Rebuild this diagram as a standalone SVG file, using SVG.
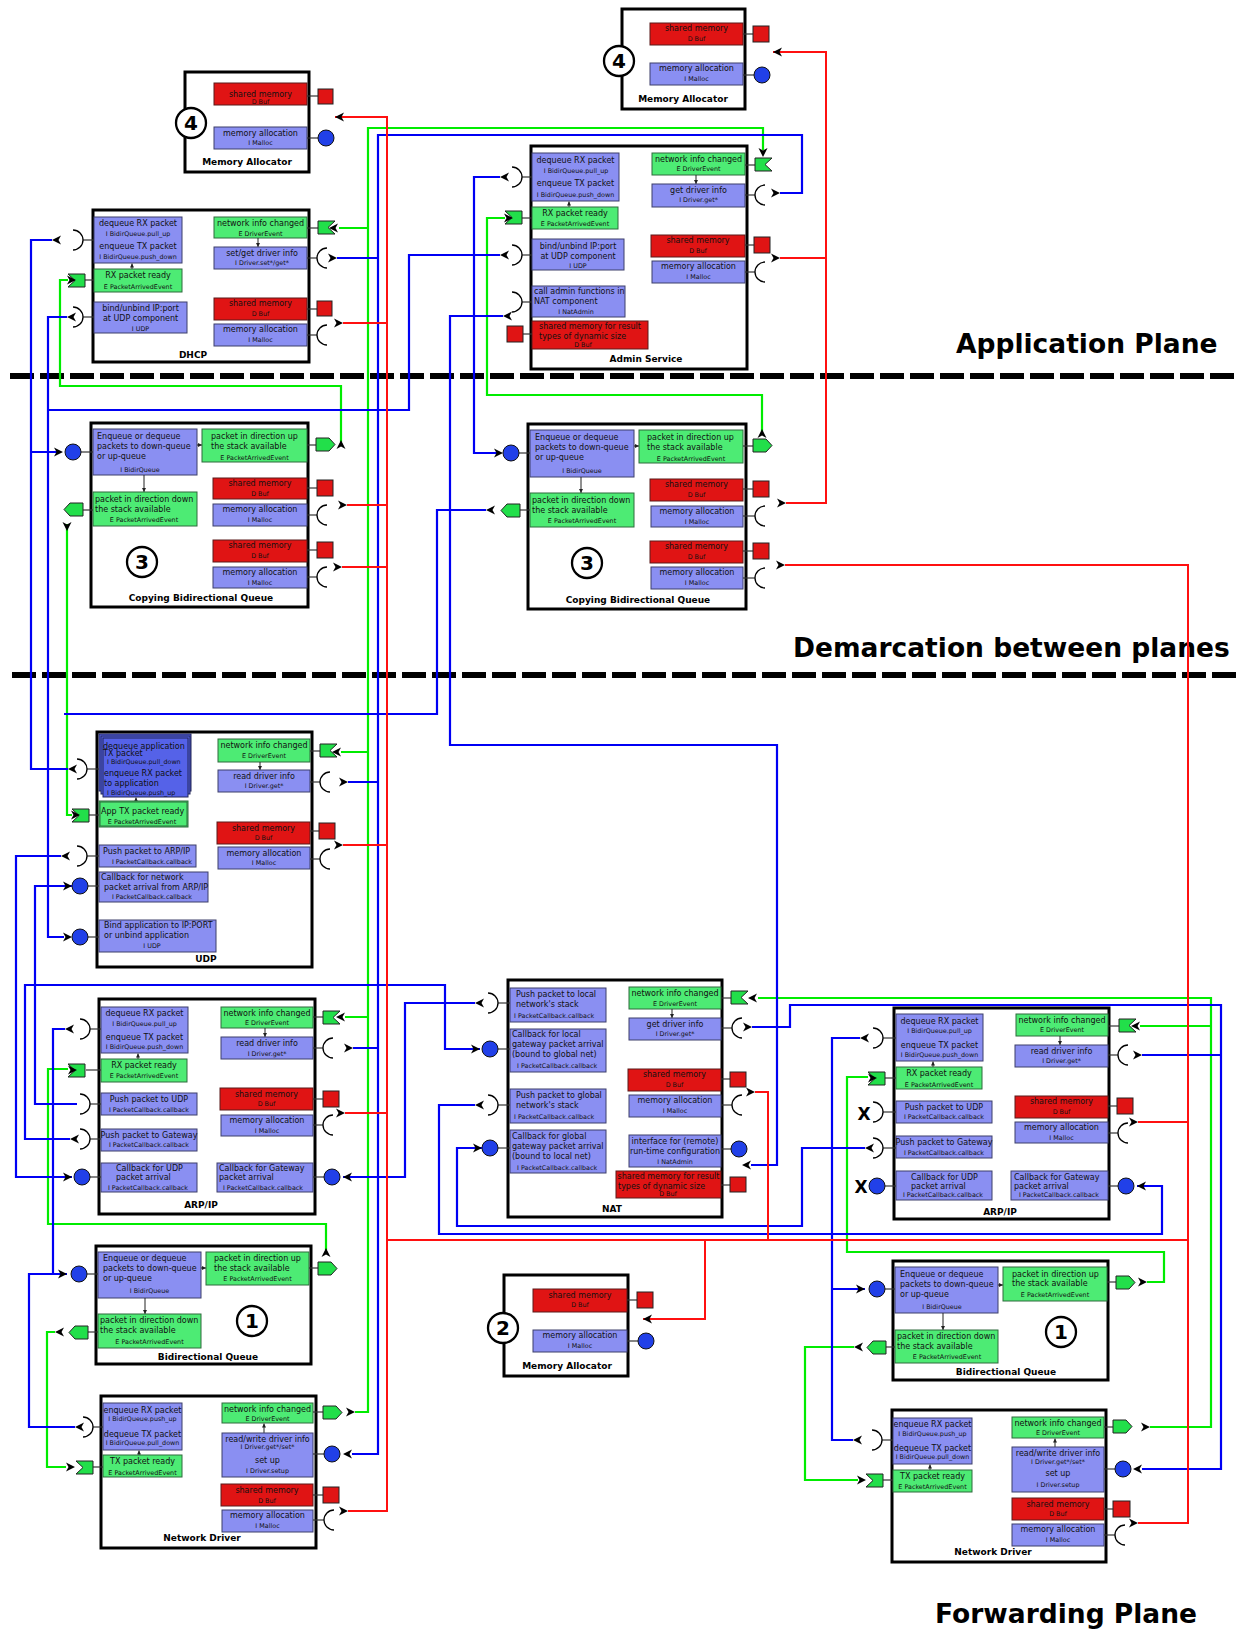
<svg xmlns="http://www.w3.org/2000/svg" width="1245" height="1629" viewBox="0 0 1245 1629">
<style>
.box{fill:#fff;stroke:#000;stroke-width:3}
.bl{fill:#8a8ff2;stroke:#3c3f6a;stroke-width:1}
.bd{fill:#5562e8;stroke:#22265a;stroke-width:1}
.gr{fill:#4deb74;stroke:#2f6a3c;stroke-width:1}
.rd{fill:#e01414;stroke:#5a1a1a;stroke-width:1}
.st{stroke:#333;stroke-width:1.2}
.pc{fill:#2140e8;stroke:#111;stroke-width:1}
.sq{fill:#e01414;stroke:#222;stroke-width:1}
.nc{fill:#fff;stroke:#000;stroke-width:2.3}
.t{font-family:"DejaVu Sans",sans-serif;font-size:8px;fill:#111}
.s{font-family:"DejaVu Sans",sans-serif;font-size:6.4px;fill:#111}
.m{text-anchor:middle}
.b{font-family:"DejaVu Sans",sans-serif;font-weight:bold;font-size:9px;text-anchor:middle}
.n{font-family:"DejaVu Sans",sans-serif;font-weight:bold;font-size:20px;text-anchor:middle}
.h{font-family:"DejaVu Sans",sans-serif;font-weight:bold;font-size:26.5px}
.x{font-family:"DejaVu Sans",sans-serif;font-weight:bold;font-size:17px;text-anchor:middle}
.ia{stroke:#222;stroke-width:1;marker-end:url(#sa)}
.wg{fill:none;stroke:#00ec00;stroke-width:2.2}
.wb{fill:none;stroke:#0000f4;stroke-width:2.2}
.wr{fill:none;stroke:#ff1010;stroke-width:2}
.sep{stroke:#000;stroke-width:6;stroke-dasharray:24 6}
</style>
<defs>
<marker id="sa" viewBox="0 0 6 6" refX="6" refY="3" markerWidth="4" markerHeight="4" orient="auto"><path d="M0,0L6,3L0,6z" fill="#222"/></marker>
<path id="ah" d="M0,0L-9,-4.5L-6.5,0L-9,4.5Z" fill="#000"/>
<path id="sr" d="M0,-10A10,10 0 0 1 0,10" fill="none" stroke="#000" stroke-width="1.3"/>
<path id="sl" d="M0,-10A10,10 0 0 0 0,10" fill="none" stroke="#000" stroke-width="1.3"/>
<path id="snR" d="M0,0H17L10,6.5L17,13H0Z" fill="#22df4a" stroke="#222" stroke-width="1"/>
<path id="snL" d="M0,0H17V13H0L7,6.5Z" fill="#22df4a" stroke="#222" stroke-width="1"/>
<path id="soR" d="M0,0H13L19,6.5L13,13H0Z" fill="#22df4a" stroke="#222" stroke-width="1"/>
<path id="soL" d="M6,0H19V13H6L0,6.5Z" fill="#22df4a" stroke="#222" stroke-width="1"/>
</defs>
<rect width="1245" height="1629" fill="#fff"/>

<!-- plane separators and titles -->
<g id="planes">
<line class="sep" x1="10" y1="376" x2="1238" y2="376"/>
<line class="sep" x1="12" y1="675" x2="1238" y2="675"/>
<text class="h" x="956" y="353">Application Plane</text>
<text class="h" x="793" y="657">Demarcation between planes</text>
<text class="h" x="935" y="1623">Forwarding Plane</text>
</g>

<!-- Memory Allocator (left, application plane) -->
<g id="ma4-left">
<rect class="box" x="185" y="72" width="124" height="100"/>
<rect class="rd" x="214" y="83" width="93" height="22"/>
<text class="t m" x="260.5" y="97">shared memory</text>
<text class="s m" x="260.5" y="104">D Buf</text>
<line class="st" x1="307" y1="96" x2="318" y2="96"/>
<rect class="sq" x="318" y="89" width="15" height="15"/>
<rect class="bl" x="214" y="127" width="93" height="22"/>
<text class="t m" x="260.5" y="136">memory allocation</text>
<text class="s m" x="260.5" y="145">I Malloc</text>
<line class="st" x1="307" y1="138" x2="318" y2="138"/>
<circle class="pc" cx="326" cy="138" r="8"/>
<circle class="nc" cx="191" cy="123" r="15"/>
<text class="n" x="191" y="130">4</text>
<text class="b" x="247" y="165">Memory Allocator</text>
</g>

<!-- Memory Allocator (right, application plane) -->
<g id="ma4-right">
<rect class="box" x="622" y="9" width="123" height="100"/>
<rect class="rd" x="650" y="23" width="93" height="22"/>
<text class="t m" x="696.5" y="31">shared memory</text>
<text class="s m" x="696.5" y="41">D Buf</text>
<line class="st" x1="743" y1="34" x2="753" y2="34"/>
<rect class="sq" x="753" y="26" width="16" height="16"/>
<rect class="bl" x="650" y="63" width="93" height="22"/>
<text class="t m" x="696.5" y="71">memory allocation</text>
<text class="s m" x="696.5" y="81">I Malloc</text>
<line class="st" x1="743" y1="75" x2="754" y2="75"/>
<circle class="pc" cx="762" cy="75" r="8"/>
<circle class="nc" cx="619" cy="61" r="15"/>
<text class="n" x="619" y="68">4</text>
<text class="b" x="683" y="102">Memory Allocator</text>
</g>

<!-- DHCP -->
<g id="dhcp">
<rect class="box" x="93" y="210" width="216" height="152"/>
<rect class="bl" x="94" y="217" width="88" height="46"/>
<text class="t m" x="138" y="226">dequeue RX packet</text>
<text class="s m" x="138" y="236">I BidirQueue.pull_up</text>
<text class="t m" x="138" y="249">enqueue TX packet</text>
<text class="s m" x="138" y="259">I BidirQueue.push_down</text>
<line class="ia" x1="132" y1="269" x2="132" y2="263.5"/>
<rect class="gr" x="94" y="269" width="88" height="23"/>
<text class="t m" x="138" y="278">RX packet ready</text>
<text class="s m" x="138" y="289">E PacketArrivedEvent</text>
<rect class="bl" x="94" y="302" width="93" height="31"/>
<text class="t m" x="140.5" y="311">bind/unbind IP:port</text>
<text class="t m" x="140.5" y="321">at UDP component</text>
<text class="s m" x="140.5" y="331">I UDP</text>
<rect class="gr" x="214" y="217" width="93" height="21"/>
<text class="t m" x="260.5" y="226">network info changed</text>
<text class="s m" x="260.5" y="236">E DriverEvent</text>
<line class="ia" x1="258" y1="238" x2="258" y2="247"/>
<rect class="bl" x="214" y="247" width="93" height="22"/>
<text class="t m" x="262" y="256">set/get driver info</text>
<text class="s m" x="262" y="265">I Driver.set*/get*</text>
<rect class="rd" x="214" y="298" width="93" height="22"/>
<text class="t m" x="260.5" y="306">shared memory</text>
<text class="s m" x="260.5" y="316">D Buf</text>
<rect class="bl" x="214" y="324" width="93" height="22"/>
<text class="t m" x="260.5" y="332">memory allocation</text>
<text class="s m" x="260.5" y="342">I Malloc</text>
<text class="b" x="193" y="358">DHCP</text>
<line class="st" x1="307" y1="228" x2="318" y2="228"/><use href="#snR" x="318" y="221"/>
<line class="st" x1="307" y1="258" x2="317" y2="258"/><use href="#sl" x="327" y="258"/>
<line class="st" x1="307" y1="309" x2="317" y2="309"/><rect class="sq" x="317" y="301" width="15" height="15"/>
<line class="st" x1="307" y1="335" x2="317" y2="335"/><use href="#sl" x="327" y="335"/>
<line class="st" x1="83" y1="240" x2="94" y2="240"/><use href="#sr" x="73" y="240"/>
<line class="st" x1="85" y1="280" x2="94" y2="280"/><use href="#snL" x="68" y="274"/>
<line class="st" x1="83" y1="317" x2="94" y2="317"/><use href="#sr" x="73" y="317"/>
</g>

<!-- Admin Service -->
<g id="admin">
<rect class="box" x="531" y="146" width="216" height="223"/>
<rect class="bl" x="532" y="153" width="87" height="48"/>
<text class="t m" x="575.5" y="163">dequeue RX packet</text>
<text class="s m" x="576" y="172.5">I BidirQueue.pull_up</text>
<text class="t m" x="575.5" y="186">enqueue TX packet</text>
<text class="s m" x="575.5" y="196.5">I BidirQueue.push_down</text>
<line class="ia" x1="569" y1="207" x2="569" y2="201.5"/>
<rect class="gr" x="532" y="207" width="86" height="22"/>
<text class="t m" x="575" y="216">RX packet ready</text>
<text class="s m" x="575" y="226">E PacketArrivedEvent</text>
<rect class="bl" x="532" y="239" width="92" height="31"/>
<text class="t m" x="578" y="249">bind/unbind IP:port</text>
<text class="t m" x="578" y="259">at UDP component</text>
<text class="s m" x="578" y="268">I UDP</text>
<rect class="bl" x="532" y="286" width="93" height="31"/>
<text class="t" x="534" y="294">call admin functions in</text>
<text class="t" x="534" y="304">NAT component</text>
<text class="s m" x="576" y="314">I NatAdmin</text>
<rect class="rd" x="532" y="321" width="116" height="28"/>
<text class="t m" x="590" y="329">shared memory for result</text>
<text class="t" x="539" y="339">types of dynamic size</text>
<text class="s m" x="583" y="346.5">D Buf</text>
<line class="st" x1="523" y1="334" x2="532" y2="334"/><rect class="sq" x="507" y="326" width="16" height="16"/>
<rect class="gr" x="652" y="153" width="93" height="22"/>
<text class="t m" x="698.5" y="162">network info changed</text>
<text class="s m" x="698.5" y="171">E DriverEvent</text>
<line class="ia" x1="696" y1="175" x2="696" y2="184"/>
<rect class="bl" x="652" y="184" width="93" height="23"/>
<text class="t m" x="698.5" y="193">get driver info</text>
<text class="s m" x="698.5" y="202">I Driver.get*</text>
<rect class="rd" x="651" y="235" width="94" height="22"/>
<text class="t m" x="698" y="243">shared memory</text>
<text class="s m" x="698" y="253">D Buf</text>
<rect class="bl" x="652" y="261" width="93" height="22"/>
<text class="t m" x="698.5" y="269">memory allocation</text>
<text class="s m" x="698.5" y="279">I Malloc</text>
<text class="b" x="646" y="362">Admin Service</text>
<line class="st" x1="745" y1="165" x2="755" y2="165"/><use href="#snR" x="755" y="158"/>
<line class="st" x1="745" y1="195" x2="755" y2="195"/><use href="#sl" x="765" y="195"/>
<line class="st" x1="745" y1="245" x2="754" y2="245"/><rect class="sq" x="754" y="237" width="16" height="16"/>
<line class="st" x1="745" y1="272" x2="755" y2="272"/><use href="#sl" x="765" y="272"/>
<line class="st" x1="522" y1="177" x2="532" y2="177"/><use href="#sr" x="512" y="177"/>
<line class="st" x1="522" y1="218" x2="532" y2="218"/><use href="#snL" x="505" y="211"/>
<line class="st" x1="522" y1="255" x2="532" y2="255"/><use href="#sr" x="512" y="255"/>
<line class="st" x1="522" y1="302" x2="532" y2="302"/><use href="#sr" x="512" y="302"/>
</g>

<!-- Copying Bidirectional Queue (left) -->
<g id="cbq-left">
<rect class="box" x="91" y="423" width="217" height="184"/>
<rect class="bl" x="93" y="429" width="104" height="46"/>
<text class="t" x="97" y="438.5">Enqueue or dequeue</text>
<text class="t" x="97" y="448.5">packets to down-queue</text>
<text class="t" x="97" y="458.5">or up-queue</text>
<text class="s m" x="140" y="471.5">I BidirQueue</text>
<line class="ia" x1="197" y1="445" x2="202" y2="445"/>
<rect class="gr" x="202" y="429" width="105" height="33"/>
<text class="t" x="211" y="439">packet in direction up</text>
<text class="t" x="211" y="449">the stack available</text>
<text class="s m" x="254.5" y="459.5">E PacketArrivedEvent</text>
<line class="ia" x1="144" y1="475" x2="144" y2="492"/>
<rect class="gr" x="93" y="492" width="104" height="34"/>
<text class="t" x="95" y="502">packet in direction down</text>
<text class="t" x="95" y="512">the stack available</text>
<text class="s m" x="144" y="522">E PacketArrivedEvent</text>
<rect class="rd" x="213" y="478" width="94" height="21"/>
<text class="t m" x="260" y="486">shared memory</text>
<text class="s m" x="260" y="496">D Buf</text>
<rect class="bl" x="213" y="504" width="94" height="22"/>
<text class="t m" x="260" y="512">memory allocation</text>
<text class="s m" x="260" y="522">I Malloc</text>
<rect class="rd" x="213" y="540" width="94" height="22"/>
<text class="t m" x="260" y="548">shared memory</text>
<text class="s m" x="260" y="558">D Buf</text>
<rect class="bl" x="213" y="567" width="94" height="21"/>
<text class="t m" x="260" y="575">memory allocation</text>
<text class="s m" x="260" y="585">I Malloc</text>
<circle class="nc" cx="142" cy="562" r="15"/>
<text class="n" x="142" y="569">3</text>
<text class="b" x="201" y="601">Copying Bidirectional Queue</text>
<line class="st" x1="307" y1="445" x2="316" y2="445"/><use href="#soR" x="316" y="438"/>
<line class="st" x1="83" y1="510" x2="93" y2="510"/><use href="#soL" x="64" y="503"/>
<line class="st" x1="81" y1="452" x2="93" y2="452"/><circle class="pc" cx="73" cy="452" r="8"/>
<line class="st" x1="307" y1="488" x2="317" y2="488"/><rect class="sq" x="317" y="480" width="16" height="16"/>
<line class="st" x1="307" y1="515" x2="317" y2="515"/><use href="#sl" x="327" y="515"/>
<line class="st" x1="307" y1="550" x2="317" y2="550"/><rect class="sq" x="317" y="542" width="16" height="16"/>
<line class="st" x1="307" y1="577" x2="317" y2="577"/><use href="#sl" x="327" y="577"/>
</g>

<!-- Copying Bidirectional Queue (right) -->
<g id="cbq-right">
<rect class="box" x="528" y="424" width="218" height="185"/>
<rect class="bl" x="530" y="430" width="104" height="47"/>
<text class="t" x="535" y="440">Enqueue or dequeue</text>
<text class="t" x="535" y="450">packets to down-queue</text>
<text class="t" x="535" y="460">or up-queue</text>
<text class="s m" x="582" y="472.5">I BidirQueue</text>
<line class="ia" x1="634" y1="446" x2="639" y2="446"/>
<rect class="gr" x="639" y="430" width="104" height="33"/>
<text class="t" x="647" y="440">packet in direction up</text>
<text class="t" x="647" y="450">the stack available</text>
<text class="s m" x="691" y="460.5">E PacketArrivedEvent</text>
<line class="ia" x1="581" y1="477" x2="581" y2="493"/>
<rect class="gr" x="530" y="493" width="104" height="34"/>
<text class="t" x="532" y="503">packet in direction down</text>
<text class="t" x="532" y="513">the stack available</text>
<text class="s m" x="582" y="523">E PacketArrivedEvent</text>
<rect class="rd" x="650" y="479" width="93" height="22"/>
<text class="t m" x="696.5" y="487">shared memory</text>
<text class="s m" x="696.5" y="497">D Buf</text>
<rect class="bl" x="651" y="506" width="92" height="21"/>
<text class="t m" x="697" y="514">memory allocation</text>
<text class="s m" x="697" y="524">I Malloc</text>
<rect class="rd" x="650" y="541" width="93" height="22"/>
<text class="t m" x="696.5" y="549">shared memory</text>
<text class="s m" x="696.5" y="559">D Buf</text>
<rect class="bl" x="651" y="567" width="92" height="22"/>
<text class="t m" x="697" y="575">memory allocation</text>
<text class="s m" x="697" y="585">I Malloc</text>
<circle class="nc" cx="587" cy="563" r="15"/>
<text class="n" x="587" y="570">3</text>
<text class="b" x="638" y="603">Copying Bidirectional Queue</text>
<line class="st" x1="743" y1="446" x2="753" y2="446"/><use href="#soR" x="753" y="439"/>
<line class="st" x1="520" y1="510" x2="530" y2="510"/><use href="#soL" x="501" y="504"/>
<line class="st" x1="519" y1="453" x2="530" y2="453"/><circle class="pc" cx="511" cy="453" r="8"/>
<line class="st" x1="743" y1="489" x2="753" y2="489"/><rect class="sq" x="753" y="481" width="16" height="16"/>
<line class="st" x1="743" y1="516" x2="755" y2="516"/><use href="#sl" x="765" y="516"/>
<line class="st" x1="743" y1="551" x2="753" y2="551"/><rect class="sq" x="753" y="543" width="16" height="16"/>
<line class="st" x1="743" y1="578" x2="755" y2="578"/><use href="#sl" x="765" y="578"/>
</g>

<!-- UDP -->
<g id="udp">
<rect class="box" x="97" y="732" width="215" height="235"/>
<rect class="bd" x="99" y="734" width="92" height="57"/>
<rect class="bd" x="101" y="736" width="89" height="58"/>
<rect class="bd" x="103" y="738" width="85" height="59"/>
<text class="t" x="103" y="748.5">dequeue application</text>
<text class="t" x="103" y="756">TX packet</text>
<text class="s" x="107" y="764">I BidirQueue.pull_down</text>
<text class="t" x="104" y="776">enqueue RX packet</text>
<text class="t" x="104" y="785.5">to application</text>
<text class="s" x="107" y="794.5">I BidirQueue.push_up</text>
<line class="ia" x1="136" y1="801" x2="136" y2="797.5"/>
<rect class="gr" x="99" y="801" width="89" height="26"/>
<rect class="gr" x="100" y="802" width="87" height="24"/>
<text class="t" x="101" y="813.5">App TX packet ready</text>
<text class="s m" x="142" y="824">E PacketArrivedEvent</text>
<rect class="bl" x="99" y="845" width="97" height="22"/>
<text class="t" x="103" y="853.5">Push packet to ARP/IP</text>
<text class="s m" x="152" y="864">I PacketCallback.callback</text>
<rect class="bl" x="99" y="872" width="109" height="30"/>
<text class="t" x="101" y="880">Callback for network</text>
<text class="t" x="104" y="889.5">packet arrival from ARP/IP</text>
<text class="s m" x="152" y="899">I PacketCallback.callback</text>
<rect class="bl" x="99" y="920" width="117" height="32"/>
<text class="t" x="104" y="927.5">Bind application to IP:PORT</text>
<text class="t" x="104" y="937.5">or unbind application</text>
<text class="s m" x="152" y="947.5">I UDP</text>
<rect class="gr" x="218" y="739" width="92" height="23"/>
<text class="t m" x="264" y="748">network info changed</text>
<text class="s m" x="264" y="758">E DriverEvent</text>
<line class="ia" x1="260" y1="762" x2="260" y2="770"/>
<rect class="bl" x="218" y="770" width="92" height="22"/>
<text class="t m" x="264" y="779">read driver info</text>
<text class="s m" x="264" y="788">I Driver.get*</text>
<rect class="rd" x="217" y="822" width="93" height="22"/>
<text class="t m" x="263.5" y="830.5">shared memory</text>
<text class="s m" x="263.5" y="840">D Buf</text>
<rect class="bl" x="218" y="847" width="92" height="22"/>
<text class="t m" x="264" y="855.5">memory allocation</text>
<text class="s m" x="264" y="865">I Malloc</text>
<text class="b" x="206" y="962">UDP</text>
<line class="st" x1="310" y1="751" x2="320" y2="751"/><use href="#snR" x="320" y="744"/>
<line class="st" x1="310" y1="782" x2="320" y2="782"/><use href="#sl" x="330" y="782"/>
<line class="st" x1="310" y1="831" x2="319" y2="831"/><rect class="sq" x="319" y="823" width="16" height="16"/>
<line class="st" x1="310" y1="859" x2="320" y2="859"/><use href="#sl" x="330" y="859"/>
<line class="st" x1="87" y1="769" x2="99" y2="769"/><use href="#sr" x="77" y="769"/>
<line class="st" x1="89" y1="815" x2="99" y2="815"/><use href="#snL" x="72" y="809"/>
<line class="st" x1="87" y1="856" x2="99" y2="856"/><use href="#sr" x="77" y="856"/>
<line class="st" x1="88" y1="886" x2="99" y2="886"/><circle class="pc" cx="80" cy="886" r="8"/>
<line class="st" x1="88" y1="937" x2="99" y2="937"/><circle class="pc" cx="80" cy="937" r="8"/>
</g>

<!-- ARP/IP (left) -->
<g id="arp-left">
<rect class="box" x="99" y="999" width="216" height="215"/>
<rect class="bl" x="101" y="1007" width="87" height="46"/>
<text class="t m" x="144.5" y="1016">dequeue RX packet</text>
<text class="s m" x="144.5" y="1026">I BidirQueue.pull_up</text>
<text class="t m" x="144.5" y="1040">enqueue TX packet</text>
<text class="s m" x="144.5" y="1049">I BidirQueue.push_down</text>
<line class="ia" x1="138" y1="1059" x2="138" y2="1053.5"/>
<rect class="gr" x="101" y="1059" width="86" height="23"/>
<text class="t m" x="144" y="1068">RX packet ready</text>
<text class="s m" x="144" y="1078">E PacketArrivedEvent</text>
<rect class="bl" x="101" y="1093" width="96" height="22"/>
<text class="t m" x="149" y="1102">Push packet to UDP</text>
<text class="s m" x="149" y="1112">I PacketCallback.callback</text>
<rect class="bl" x="101" y="1129" width="96" height="22"/>
<text class="t m" x="149" y="1137.5">Push packet to Gateway</text>
<text class="s m" x="149" y="1147">I PacketCallback.callback</text>
<rect class="bl" x="101" y="1163" width="96" height="29"/>
<text class="t" x="116" y="1171">Callback for UDP</text>
<text class="t" x="116" y="1180">packet arrival</text>
<text class="s m" x="148" y="1190">I PacketCallback.callback</text>
<rect class="gr" x="221" y="1007" width="92" height="21"/>
<text class="t m" x="267" y="1015.5">network info changed</text>
<text class="s m" x="267" y="1025">E DriverEvent</text>
<line class="ia" x1="265" y1="1028" x2="265" y2="1037"/>
<rect class="bl" x="221" y="1037" width="92" height="22"/>
<text class="t m" x="267" y="1046">read driver info</text>
<text class="s m" x="267" y="1055.5">I Driver.get*</text>
<rect class="rd" x="220" y="1088" width="93" height="22"/>
<text class="t m" x="266.5" y="1096.5">shared memory</text>
<text class="s m" x="266.5" y="1106">D Buf</text>
<rect class="bl" x="221" y="1115" width="92" height="21"/>
<text class="t m" x="267" y="1123">memory allocation</text>
<text class="s m" x="267" y="1132.5">I Malloc</text>
<rect class="bl" x="217" y="1163" width="96" height="29"/>
<text class="t" x="219" y="1171">Callback for Gateway</text>
<text class="t" x="219" y="1180">packet arrival</text>
<text class="s m" x="263" y="1190">I PacketCallback.callback</text>
<text class="b" x="201" y="1208">ARP/IP</text>
<line class="st" x1="313" y1="1017" x2="323" y2="1017"/><use href="#snR" x="323" y="1011"/>
<line class="st" x1="313" y1="1048" x2="323" y2="1048"/><use href="#sl" x="333" y="1048"/>
<line class="st" x1="313" y1="1099" x2="323" y2="1099"/><rect class="sq" x="323" y="1091" width="16" height="16"/>
<line class="st" x1="313" y1="1125" x2="323" y2="1125"/><use href="#sl" x="333" y="1125"/>
<line class="st" x1="313" y1="1177" x2="324" y2="1177"/><circle class="pc" cx="332" cy="1177" r="8"/>
<line class="st" x1="90" y1="1029" x2="101" y2="1029"/><use href="#sr" x="80" y="1029"/>
<line class="st" x1="86" y1="1070" x2="101" y2="1070"/><use href="#snL" x="68" y="1064"/>
<line class="st" x1="90" y1="1104" x2="101" y2="1104"/><use href="#sr" x="80" y="1104"/>
<line class="st" x1="90" y1="1139" x2="101" y2="1139"/><use href="#sr" x="80" y="1139"/>
<line class="st" x1="90" y1="1177" x2="101" y2="1177"/><circle class="pc" cx="82" cy="1177" r="8"/>
</g>

<!-- NAT -->
<g id="nat">
<rect class="box" x="508" y="980" width="214" height="237"/>
<rect class="bl" x="510" y="988" width="96" height="34"/>
<text class="t" x="516" y="997">Push packet to local</text>
<text class="t" x="516" y="1006.5">network's stack</text>
<text class="s" x="514" y="1018">I PacketCallback.callback</text>
<rect class="bl" x="510" y="1029" width="96" height="43"/>
<text class="t" x="512" y="1037">Callback for local</text>
<text class="t" x="512" y="1047">gateway packet arrival</text>
<text class="t" x="512" y="1057">(bound to global net)</text>
<text class="s" x="517" y="1068">I PacketCallback.callback</text>
<rect class="bl" x="510" y="1089" width="96" height="34"/>
<text class="t" x="516" y="1098">Push packet to global</text>
<text class="t" x="516" y="1107.5">network's stack</text>
<text class="s" x="514" y="1119">I PacketCallback.callback</text>
<rect class="bl" x="510" y="1130" width="96" height="43"/>
<text class="t" x="512" y="1139">Callback for global</text>
<text class="t" x="512" y="1149">gateway packet arrival</text>
<text class="t" x="512" y="1159">(bound to local net)</text>
<text class="s" x="517" y="1169.5">I PacketCallback.callback</text>
<rect class="gr" x="629" y="987" width="92" height="22"/>
<text class="t m" x="675" y="996">network info changed</text>
<text class="s m" x="675" y="1005.5">E DriverEvent</text>
<line class="ia" x1="672" y1="1009" x2="672" y2="1018"/>
<rect class="bl" x="629" y="1018" width="92" height="22"/>
<text class="t m" x="675" y="1026.5">get driver info</text>
<text class="s m" x="675" y="1036">I Driver.get*</text>
<rect class="rd" x="628" y="1069" width="93" height="22"/>
<text class="t m" x="674.5" y="1077">shared memory</text>
<text class="s m" x="674.5" y="1086.5">D Buf</text>
<rect class="bl" x="629" y="1095" width="92" height="22"/>
<text class="t m" x="675" y="1103">memory allocation</text>
<text class="s m" x="675" y="1112.5">I Malloc</text>
<rect class="bl" x="629" y="1135" width="92" height="32"/>
<text class="t m" x="675" y="1144">interface for (remote)</text>
<text class="t m" x="675" y="1154">run-time configuration</text>
<text class="s m" x="675" y="1164">I NatAdmin</text>
<rect class="rd" x="616" y="1171" width="105" height="27"/>
<text class="t m" x="668.5" y="1178.5">shared memory for result</text>
<text class="t" x="618" y="1188.5">types of dynamic size</text>
<text class="s m" x="668" y="1196">D Buf</text>
<text class="b" x="612" y="1212">NAT</text>
<line class="st" x1="721" y1="998" x2="731" y2="998"/><use href="#snR" x="731" y="991"/>
<line class="st" x1="721" y1="1028" x2="732" y2="1028"/><use href="#sl" x="742" y="1028"/>
<line class="st" x1="721" y1="1079" x2="730" y2="1079"/><rect class="sq" x="730" y="1072" width="16" height="15"/>
<line class="st" x1="721" y1="1105" x2="732" y2="1105"/><use href="#sl" x="742" y="1105"/>
<line class="st" x1="721" y1="1149" x2="731" y2="1149"/><circle class="pc" cx="739" cy="1149" r="8"/>
<line class="st" x1="721" y1="1185" x2="730" y2="1185"/><rect class="sq" x="730" y="1177" width="16" height="15"/>
<line class="st" x1="498" y1="1003" x2="510" y2="1003"/><use href="#sr" x="488" y="1003"/>
<line class="st" x1="498" y1="1049" x2="510" y2="1049"/><circle class="pc" cx="490" cy="1049" r="8"/>
<line class="st" x1="498" y1="1105" x2="510" y2="1105"/><use href="#sr" x="488" y="1105"/>
<line class="st" x1="498" y1="1148" x2="510" y2="1148"/><circle class="pc" cx="490" cy="1148" r="8"/>
</g>

<!-- ARP/IP (right) -->
<g id="arp-right">
<rect class="box" x="894" y="1008" width="215" height="211"/>
<rect class="bl" x="896" y="1014" width="87" height="47"/>
<text class="t m" x="939.5" y="1024">dequeue RX packet</text>
<text class="s m" x="939.5" y="1033">I BidirQueue.pull_up</text>
<text class="t m" x="939.5" y="1048">enqueue TX packet</text>
<text class="s m" x="939.5" y="1056.5">I BidirQueue.push_down</text>
<line class="ia" x1="933" y1="1067" x2="933" y2="1061.5"/>
<rect class="gr" x="896" y="1067" width="86" height="22"/>
<text class="t m" x="939" y="1076">RX packet ready</text>
<text class="s m" x="939" y="1086.5">E PacketArrivedEvent</text>
<rect class="bl" x="896" y="1101" width="96" height="22"/>
<text class="t m" x="944" y="1109.5">Push packet to UDP</text>
<text class="s m" x="944" y="1119">I PacketCallback.callback</text>
<rect class="bl" x="896" y="1136" width="96" height="22"/>
<text class="t m" x="944" y="1144.5">Push packet to Gateway</text>
<text class="s m" x="944" y="1154.5">I PacketCallback.callback</text>
<rect class="bl" x="896" y="1171" width="96" height="29"/>
<text class="t" x="911" y="1180">Callback for UDP</text>
<text class="t" x="911" y="1189">packet arrival</text>
<text class="s m" x="943" y="1197">I PacketCallback.callback</text>
<rect class="gr" x="1016" y="1014" width="92" height="22"/>
<text class="t m" x="1062" y="1022.5">network info changed</text>
<text class="s m" x="1062" y="1032">E DriverEvent</text>
<line class="ia" x1="1060" y1="1036" x2="1060" y2="1045"/>
<rect class="bl" x="1015" y="1045" width="93" height="22"/>
<text class="t m" x="1061.5" y="1053.5">read driver info</text>
<text class="s m" x="1061.5" y="1063">I Driver.get*</text>
<rect class="rd" x="1015" y="1096" width="93" height="22"/>
<text class="t m" x="1061.5" y="1104">shared memory</text>
<text class="s m" x="1061.5" y="1114">D Buf</text>
<rect class="bl" x="1015" y="1122" width="93" height="21"/>
<text class="t m" x="1061.5" y="1130">memory allocation</text>
<text class="s m" x="1061.5" y="1139.5">I Malloc</text>
<rect class="bl" x="1011" y="1171" width="97" height="29"/>
<text class="t" x="1014" y="1180">Callback for Gateway</text>
<text class="t" x="1014" y="1189">packet arrival</text>
<text class="s m" x="1059" y="1197">I PacketCallback.callback</text>
<text class="b" x="1000" y="1215">ARP/IP</text>
<line class="st" x1="1108" y1="1026" x2="1119" y2="1026"/><use href="#snR" x="1119" y="1019"/>
<line class="st" x1="1108" y1="1055" x2="1118" y2="1055"/><use href="#sl" x="1128" y="1055"/>
<line class="st" x1="1108" y1="1106" x2="1117" y2="1106"/><rect class="sq" x="1117" y="1098" width="16" height="16"/>
<line class="st" x1="1108" y1="1133" x2="1118" y2="1133"/><use href="#sl" x="1128" y="1133"/>
<line class="st" x1="1108" y1="1186" x2="1118" y2="1186"/><circle class="pc" cx="1126" cy="1186" r="8"/>
<line class="st" x1="883" y1="1038" x2="896" y2="1038"/><use href="#sr" x="873" y="1038"/>
<line class="st" x1="885" y1="1078" x2="896" y2="1078"/><use href="#snL" x="868" y="1072"/>
<line class="st" x1="883" y1="1112" x2="896" y2="1112"/><use href="#sr" x="873" y="1112"/>
<text class="x" x="864" y="1120">X</text>
<line class="st" x1="883" y1="1148" x2="896" y2="1148"/><use href="#sr" x="873" y="1148"/>
<line class="st" x1="885" y1="1186" x2="896" y2="1186"/><circle class="pc" cx="877" cy="1186" r="8"/>
<text class="x" x="861" y="1193">X</text>
</g>

<!-- Bidirectional Queue (left) -->
<g id="bq-left">
<rect class="box" x="96" y="1246" width="215" height="118"/>
<rect class="bl" x="98" y="1252" width="103" height="46"/>
<text class="t" x="103" y="1261">Enqueue or dequeue</text>
<text class="t" x="103" y="1271">packets to down-queue</text>
<text class="t" x="103" y="1281">or up-queue</text>
<text class="s m" x="149.5" y="1293">I BidirQueue</text>
<line class="ia" x1="201" y1="1268" x2="206" y2="1268"/>
<rect class="gr" x="206" y="1252" width="103" height="33"/>
<text class="t" x="214" y="1261">packet in direction up</text>
<text class="t" x="214" y="1270.5">the stack available</text>
<text class="s m" x="257.5" y="1281">E PacketArrivedEvent</text>
<line class="ia" x1="145" y1="1298" x2="145" y2="1314"/>
<rect class="gr" x="98" y="1314" width="103" height="34"/>
<text class="t" x="100" y="1323">packet in direction down</text>
<text class="t" x="100" y="1332.5">the stack available</text>
<text class="s m" x="149.5" y="1344">E PacketArrivedEvent</text>
<circle class="nc" cx="252" cy="1321" r="15"/>
<text class="n" x="252" y="1328">1</text>
<text class="b" x="208" y="1360">Bidirectional Queue</text>
<line class="st" x1="309" y1="1268" x2="318" y2="1268"/><use href="#soR" x="318" y="1262"/>
<line class="st" x1="88" y1="1332" x2="98" y2="1332"/><use href="#soL" x="69" y="1326"/>
<line class="st" x1="87" y1="1274" x2="98" y2="1274"/><circle class="pc" cx="79" cy="1274" r="8"/>
</g>

<!-- Network Driver (left) -->
<g id="nd-left">
<rect class="box" x="101" y="1396" width="215" height="152"/>
<rect class="bl" x="103" y="1403" width="79" height="47"/>
<text class="t m" x="142.5" y="1413">enqueue RX packet</text>
<text class="s m" x="142.5" y="1421">I BidirQueue.push_up</text>
<text class="t m" x="142.5" y="1437">dequeue TX packet</text>
<text class="s m" x="142.5" y="1445">I BidirQueue.pull_down</text>
<line class="ia" x1="139" y1="1455" x2="139" y2="1450.5"/>
<rect class="gr" x="103" y="1455" width="79" height="22"/>
<text class="t m" x="142.5" y="1464">TX packet ready</text>
<text class="s m" x="142.5" y="1474.5">E PacketArrivedEvent</text>
<rect class="gr" x="222" y="1403" width="91" height="20"/>
<text class="t m" x="267.5" y="1411.5">network info changed</text>
<text class="s m" x="267.5" y="1421">E DriverEvent</text>
<line class="ia" x1="264" y1="1433" x2="264" y2="1423.5"/>
<rect class="bl" x="222" y="1433" width="91" height="44"/>
<text class="t m" x="267.5" y="1441.5">read/write driver info</text>
<text class="s m" x="267.5" y="1449">I Driver.get*/set*</text>
<text class="t m" x="267.5" y="1462.5">set up</text>
<text class="s m" x="267.5" y="1473">I Driver.setup</text>
<rect class="rd" x="221" y="1484" width="92" height="22"/>
<text class="t m" x="267" y="1493">shared memory</text>
<text class="s m" x="267" y="1502.5">D Buf</text>
<rect class="bl" x="222" y="1510" width="91" height="22"/>
<text class="t m" x="267.5" y="1518">memory allocation</text>
<text class="s m" x="267.5" y="1528">I Malloc</text>
<text class="b" x="202" y="1541">Network Driver</text>
<line class="st" x1="313" y1="1412" x2="323" y2="1412"/><use href="#soR" x="323" y="1406"/>
<line class="st" x1="313" y1="1454" x2="324" y2="1454"/><circle class="pc" cx="332" cy="1454" r="8"/>
<line class="st" x1="313" y1="1495" x2="323" y2="1495"/><rect class="sq" x="323" y="1487" width="16" height="16"/>
<line class="st" x1="313" y1="1520" x2="324" y2="1520"/><use href="#sl" x="334" y="1520"/>
<line class="st" x1="93" y1="1427" x2="103" y2="1427"/><use href="#sr" x="83" y="1427"/>
<line class="st" x1="93" y1="1467" x2="103" y2="1467"/><use href="#snL" x="76" y="1461"/>
</g>

<!-- Memory Allocator (forwarding plane) -->
<g id="ma2">
<rect class="box" x="504" y="1275" width="124" height="101"/>
<rect class="rd" x="533" y="1289" width="94" height="23"/>
<text class="t m" x="580" y="1298">shared memory</text>
<text class="s m" x="580" y="1307">D Buf</text>
<line class="st" x1="627" y1="1300" x2="637" y2="1300"/><rect class="sq" x="637" y="1292" width="16" height="16"/>
<rect class="bl" x="533" y="1330" width="94" height="22"/>
<text class="t m" x="580" y="1338">memory allocation</text>
<text class="s m" x="580" y="1347.5">I Malloc</text>
<line class="st" x1="627" y1="1341" x2="638" y2="1341"/><circle class="pc" cx="646" cy="1341" r="8"/>
<circle class="nc" cx="503" cy="1328" r="15"/>
<text class="n" x="503" y="1335">2</text>
<text class="b" x="567" y="1369">Memory Allocator</text>
</g>

<!-- Bidirectional Queue (right) -->
<g id="bq-right">
<rect class="box" x="893" y="1261" width="215" height="119"/>
<rect class="bl" x="895" y="1267" width="103" height="46"/>
<text class="t" x="900" y="1276.5">Enqueue or dequeue</text>
<text class="t" x="900" y="1286.5">packets to down-queue</text>
<text class="t" x="900" y="1296.5">or up-queue</text>
<text class="s m" x="942" y="1309">I BidirQueue</text>
<line class="ia" x1="998" y1="1285" x2="1003" y2="1285"/>
<rect class="gr" x="1003" y="1267" width="104" height="34"/>
<text class="t" x="1012" y="1276.5">packet in direction up</text>
<text class="t" x="1012" y="1286">the stack available</text>
<text class="s m" x="1055" y="1296.5">E PacketArrivedEvent</text>
<line class="ia" x1="943" y1="1313" x2="943" y2="1330"/>
<rect class="gr" x="895" y="1330" width="103" height="33"/>
<text class="t" x="897" y="1339">packet in direction down</text>
<text class="t" x="897" y="1349">the stack available</text>
<text class="s m" x="947" y="1359">E PacketArrivedEvent</text>
<circle class="nc" cx="1061" cy="1332" r="15"/>
<text class="n" x="1061" y="1339">1</text>
<text class="b" x="1006" y="1375">Bidirectional Queue</text>
<line class="st" x1="1107" y1="1282" x2="1116" y2="1282"/><use href="#soR" x="1116" y="1276"/>
<line class="st" x1="886" y1="1347" x2="895" y2="1347"/><use href="#soL" x="867" y="1341"/>
<line class="st" x1="885" y1="1289" x2="895" y2="1289"/><circle class="pc" cx="877" cy="1289" r="8"/>
</g>

<!-- Network Driver (right) -->
<g id="nd-right">
<rect class="box" x="892" y="1410" width="214" height="152"/>
<rect class="bl" x="893" y="1418" width="79" height="46"/>
<text class="t m" x="932.5" y="1427">enqueue RX packet</text>
<text class="s m" x="932.5" y="1435.5">I BidirQueue.push_up</text>
<text class="t m" x="932.5" y="1451">dequeue TX packet</text>
<text class="s m" x="932.5" y="1459">I BidirQueue.pull_down</text>
<line class="ia" x1="930" y1="1470" x2="930" y2="1464.5"/>
<rect class="gr" x="893" y="1470" width="79" height="22"/>
<text class="t m" x="932.5" y="1479">TX packet ready</text>
<text class="s m" x="932.5" y="1489">E PacketArrivedEvent</text>
<rect class="gr" x="1012" y="1417" width="92" height="21"/>
<text class="t m" x="1058" y="1425.5">network info changed</text>
<text class="s m" x="1058" y="1435">E DriverEvent</text>
<line class="ia" x1="1055" y1="1447" x2="1055" y2="1438.5"/>
<rect class="bl" x="1012" y="1447" width="92" height="45"/>
<text class="t m" x="1058" y="1456">read/write driver info</text>
<text class="s m" x="1058" y="1464">I Driver.get*/set*</text>
<text class="t m" x="1058" y="1476">set up</text>
<text class="s m" x="1058" y="1487">I Driver.setup</text>
<rect class="rd" x="1012" y="1498" width="92" height="22"/>
<text class="t m" x="1058" y="1506.5">shared memory</text>
<text class="s m" x="1058" y="1516">D Buf</text>
<rect class="bl" x="1012" y="1524" width="92" height="22"/>
<text class="t m" x="1058" y="1532">memory allocation</text>
<text class="s m" x="1058" y="1541.5">I Malloc</text>
<text class="b" x="993" y="1555">Network Driver</text>
<line class="st" x1="1104" y1="1427" x2="1113" y2="1427"/><use href="#soR" x="1113" y="1420"/>
<line class="st" x1="1104" y1="1469" x2="1115" y2="1469"/><circle class="pc" cx="1123" cy="1469" r="8"/>
<line class="st" x1="1104" y1="1509" x2="1113" y2="1509"/><rect class="sq" x="1113" y="1501" width="17" height="16"/>
<line class="st" x1="1104" y1="1535" x2="1115" y2="1535"/><use href="#sl" x="1125" y="1535"/>
<line class="st" x1="882" y1="1440" x2="893" y2="1440"/><use href="#sr" x="872" y="1440"/>
<line class="st" x1="883" y1="1480" x2="893" y2="1480"/><use href="#snL" x="866" y="1474"/>
</g>

<!-- connectors -->
<g id="connectors">
<!-- network info changed (driver events) -->
<path class="wg" d="M355,1412H368V128H763V150M339,228H368M341,752H368M345,1017H368"/>
<path class="wg" d="M758,998H1211V1427H1150M1140,1026H1211"/>
<!-- packet-arrived events -->
<path class="wg" d="M68,280H60V386H341V442"/>
<path class="wg" d="M67,524V815H72"/>
<path class="wg" d="M505,218H487V395H762V432"/>
<path class="wg" d="M68,1069H48V1224H326V1250"/>
<path class="wg" d="M55,1332H47V1467H66"/>
<path class="wg" d="M868,1077H847V1252H1164V1282H1147"/>
<path class="wg" d="M854,1347H805V1480H858"/>
<!-- driver info -->
<path class="wb" d="M352,1454H378V135H802V193H780M337,258H378M348,782H378M353,1048H378"/>
<path class="wb" d="M1142,1469H1221V1005H790V1027H752M1142,1055H1221"/>
<!-- queues, binding, admin -->
<path class="wb" d="M52,240H31V769H68M31,452H57"/>
<path class="wb" d="M67,317H48V937H64M500,255H409V410H48"/>
<path class="wb" d="M500,177H474V453H497"/>
<path class="wb" d="M503,316H450V745H777V1165H751"/>
<path class="wb" d="M486,510H437V714H64"/>
<!-- packet callbacks -->
<path class="wb" d="M61,856H16V1177H72"/>
<path class="wb" d="M77,1104H35V886H72"/>
<path class="wb" d="M70,1139H25V985H445V1049H480"/>
<path class="wb" d="M475,1003H405V1177H343"/>
<path class="wb" d="M65,1029H53V1274H67M53,1274H29V1427H75"/>
<path class="wb" d="M475,1105H439V1234H1162V1186H1137"/>
<path class="wb" d="M865,1148H802V1226H457V1148H482"/>
<path class="wb" d="M860,1038H832V1440H853M832,1289H865"/>
<!-- memory allocation -->
<path class="wr" d="M335,117H387V1511H348M343,323H387M347,505H387M342,567H387M343,845H387M345,1113H387M387,1240H1188"/>
<path class="wr" d="M773,52H826V503H786M780,258H826"/>
<path class="wr" d="M785,565H1188V1523H1138M1138,1122H1188"/>
<path class="wr" d="M755,1092H768V1240"/>
<path class="wr" d="M643,1319H705V1240"/>
<!-- arrowheads -->
<use href="#ah" transform="translate(763,157) rotate(90)"/>
<use href="#ah" transform="translate(329,228) rotate(180)"/>
<use href="#ah" transform="translate(332,752) rotate(180)"/>
<use href="#ah" transform="translate(336,1017) rotate(180)"/>
<use href="#ah" transform="translate(355,1412)"/>
<use href="#ah" transform="translate(748,998) rotate(180)"/>
<use href="#ah" transform="translate(1131,1026) rotate(180)"/>
<use href="#ah" transform="translate(1150,1427)"/>
<use href="#ah" transform="translate(76,280)"/>
<use href="#ah" transform="translate(341,440) rotate(-90)"/>
<use href="#ah" transform="translate(67,531) rotate(90)"/>
<use href="#ah" transform="translate(80,815)"/>
<use href="#ah" transform="translate(513,218)"/>
<use href="#ah" transform="translate(762,429) rotate(-90)"/>
<use href="#ah" transform="translate(77,1070)"/>
<use href="#ah" transform="translate(326,1248) rotate(-90)"/>
<use href="#ah" transform="translate(55,1332) rotate(180)"/>
<use href="#ah" transform="translate(75,1467)"/>
<use href="#ah" transform="translate(877,1078)"/>
<use href="#ah" transform="translate(1147,1282)"/>
<use href="#ah" transform="translate(854,1347) rotate(180)"/>
<use href="#ah" transform="translate(866,1480)"/>
<use href="#ah" transform="translate(343,1454) rotate(180)"/>
<use href="#ah" transform="translate(780,193)"/>
<use href="#ah" transform="translate(337,258)"/>
<use href="#ah" transform="translate(348,782)"/>
<use href="#ah" transform="translate(353,1048)"/>
<use href="#ah" transform="translate(1133,1469) rotate(180)"/>
<use href="#ah" transform="translate(752,1027)"/>
<use href="#ah" transform="translate(1142,1055)"/>
<use href="#ah" transform="translate(52,240) rotate(180)"/>
<use href="#ah" transform="translate(63,452)"/>
<use href="#ah" transform="translate(68,769) rotate(180)"/>
<use href="#ah" transform="translate(67,317) rotate(180)"/>
<use href="#ah" transform="translate(500,255) rotate(180)"/>
<use href="#ah" transform="translate(72,937)"/>
<use href="#ah" transform="translate(500,177) rotate(180)"/>
<use href="#ah" transform="translate(503,453)"/>
<use href="#ah" transform="translate(503,316) rotate(180)"/>
<use href="#ah" transform="translate(742,1165) rotate(180)"/>
<use href="#ah" transform="translate(486,510) rotate(180)"/>
<use href="#ah" transform="translate(61,856) rotate(180)"/>
<use href="#ah" transform="translate(72,1177)"/>
<use href="#ah" transform="translate(72,886)"/>
<use href="#ah" transform="translate(70,1139) rotate(180)"/>
<use href="#ah" transform="translate(480,1049)"/>
<use href="#ah" transform="translate(475,1003) rotate(180)"/>
<use href="#ah" transform="translate(343,1177) rotate(180)"/>
<use href="#ah" transform="translate(65,1029) rotate(180)"/>
<use href="#ah" transform="translate(67,1274)"/>
<use href="#ah" transform="translate(75,1427) rotate(180)"/>
<use href="#ah" transform="translate(475,1105) rotate(180)"/>
<use href="#ah" transform="translate(1137,1186) rotate(180)"/>
<use href="#ah" transform="translate(865,1148) rotate(180)"/>
<use href="#ah" transform="translate(482,1148)"/>
<use href="#ah" transform="translate(860,1038) rotate(180)"/>
<use href="#ah" transform="translate(865,1289)"/>
<use href="#ah" transform="translate(853,1440) rotate(180)"/>
<use href="#ah" transform="translate(335,117) rotate(180)"/>
<use href="#ah" transform="translate(343,323)"/>
<use href="#ah" transform="translate(347,505)"/>
<use href="#ah" transform="translate(342,567)"/>
<use href="#ah" transform="translate(343,845)"/>
<use href="#ah" transform="translate(345,1113)"/>
<use href="#ah" transform="translate(348,1511)"/>
<use href="#ah" transform="translate(773,52) rotate(180)"/>
<use href="#ah" transform="translate(786,503)"/>
<use href="#ah" transform="translate(780,258)"/>
<use href="#ah" transform="translate(785,565)"/>
<use href="#ah" transform="translate(1138,1122)"/>
<use href="#ah" transform="translate(1138,1523)"/>
<use href="#ah" transform="translate(755,1092)"/>
<use href="#ah" transform="translate(643,1319) rotate(180)"/>
</g>
</svg>
